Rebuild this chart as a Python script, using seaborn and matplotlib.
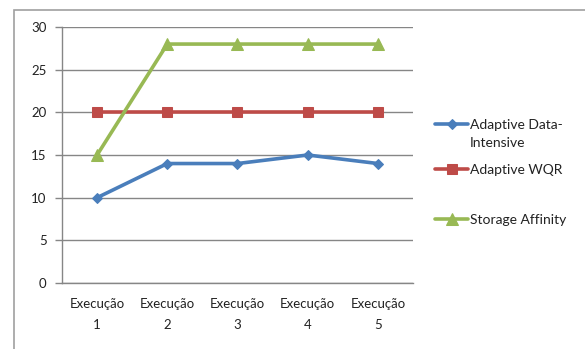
import matplotlib
matplotlib.use("Agg")
import matplotlib.pyplot as plt
import seaborn as sns
import pandas as pd
from matplotlib.patches import Rectangle

categories = ["Execução\n1", "Execução\n2", "Execução\n3", "Execução\n4", "Execução\n5"]
series_names = ["Adaptive Data-\nIntensive", "Adaptive WQR", "Storage Affinity"]
adaptive_data_intensive = [10, 14, 14, 15, 14]
adaptive_wqr = [20, 20, 20, 20, 20]
storage_affinity = [15, 28, 28, 28, 28]
y_ticks = [0, 5, 10, 15, 20, 25, 30]

colors = ["#4A7EBB", "#BE4B48", "#98B954"]
markers = ["D", "s", "^"]
msizes = [5, 7, 8]

rows = []
for name, vals in zip(series_names, [adaptive_data_intensive, adaptive_wqr, storage_affinity]):
    for i, v in enumerate(vals):
        rows.append({"x": i, "value": v, "series": name})
df = pd.DataFrame(rows)

sns.set_theme(style="white")
plt.rcParams["font.family"] = ["Lato", "DejaVu Sans"]

fig = plt.figure(figsize=(5.85, 3.49), dpi=100)
fig.patch.set_facecolor("white")
# outer chart frame
fig.patches.append(Rectangle((14 / 585, -0.1), 1.2, 1 - 10 / 349 + 0.1, transform=fig.transFigure,
                             fill=False, edgecolor="#A0A0A0", linewidth=1.2, zorder=0))

ax = fig.add_axes([62 / 585, 1 - 283 / 349, 351 / 585, 256 / 349])

for name, c, m, ms in zip(series_names, colors, markers, msizes):
    sub = df[df["series"] == name]
    sns.lineplot(data=sub, x="x", y="value", ax=ax, color=c, marker=m, markersize=ms,
                 markeredgecolor=c, linewidth=2.6, label=name, clip_on=False, zorder=3)

ax.set_xlim(-0.5, 4.5)
ax.set_ylim(0, 30)
ax.set_yticks(y_ticks)
ax.set_yticklabels([str(t) for t in y_ticks], fontsize=9.5, color="#222222")
ax.set_xticks(range(len(categories)))
ax.set_xticklabels(categories, fontsize=9.5, color="#222222", linespacing=1.85)
ax.tick_params(axis="x", length=0, pad=11)
ax.set_xticks([i - 0.5 for i in range(len(categories) + 1)], minor=True)
ax.tick_params(axis="x", which="minor", length=5, color="#868686", width=1, direction="out")
ax.tick_params(axis="y", length=5, color="#868686", width=1, direction="out", left=True, pad=6)
ax.set_xlabel("")
ax.set_ylabel("")
ax.grid(axis="y", color="#868686", linewidth=1)
ax.set_axisbelow(True)
for s in ["top", "right"]:
    ax.spines[s].set_visible(False)
for s in ["left", "bottom"]:
    ax.spines[s].set_color("#868686")
    ax.spines[s].set_linewidth(1)

handles, labels = ax.get_legend_handles_labels()
ax.get_legend().remove()
legend_y = [125, 170, 220]
legs = []
for h, l, yy in zip(handles, labels, legend_y):
    parts = l.split("\n")
    lg = fig.legend([h], [parts[0]], loc="center left", bbox_to_anchor=(435 / 585, 1 - yy / 349),
                    frameon=False, fontsize=10, handlelength=2.4, handletextpad=0.1,
                    borderaxespad=0, borderpad=0)
    for t in lg.get_texts():
        t.set_color("#222222")
    legs.append((lg, parts[1:], yy))

fig.canvas.draw()
renderer = fig.canvas.get_renderer()
for lg, rest, yy in legs:
    if rest:
        bb = lg.get_texts()[0].get_window_extent(renderer)
        x0 = bb.x0 / fig.bbox.width
        for k, line in enumerate(rest):
            fig.text(x0, 1 - (yy + 18 * (k + 1)) / 349, line, fontsize=10, color="#222222",
                     ha="left", va="center")

fig.savefig("out.png", dpi=100, facecolor="white")
